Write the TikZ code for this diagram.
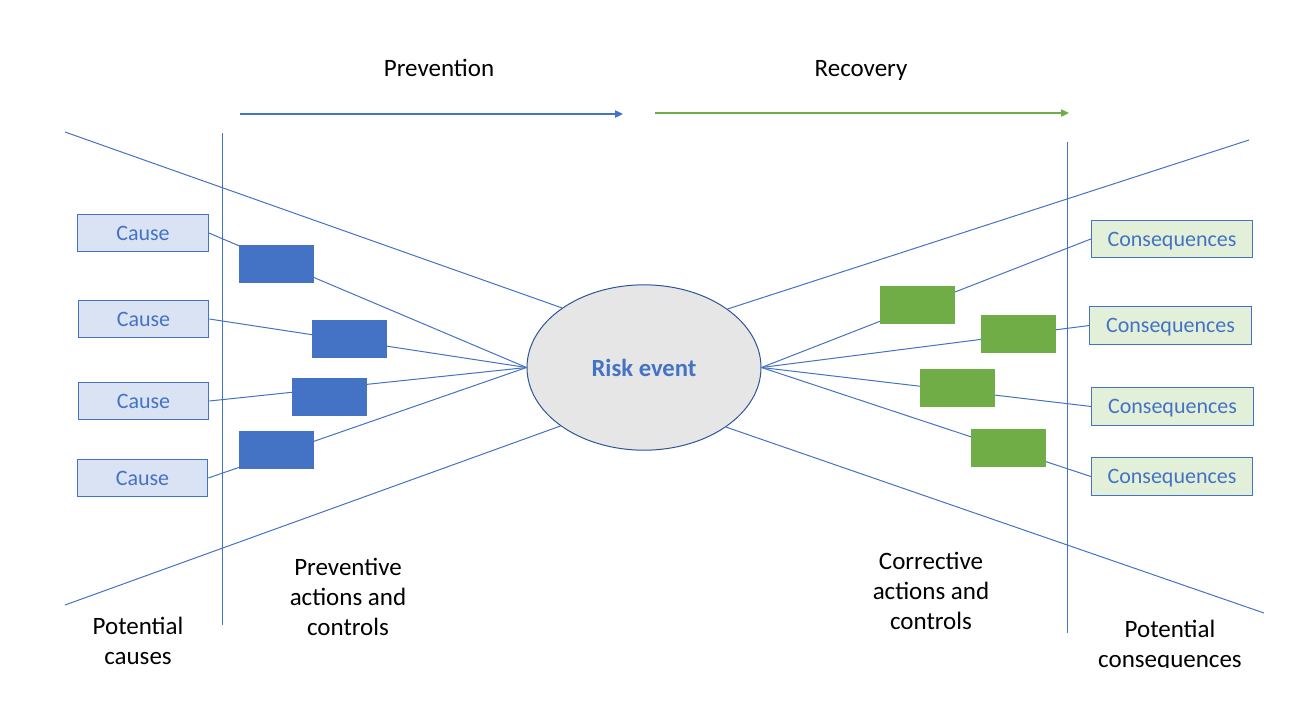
\documentclass[tikz,border=0pt]{standalone}
\usepackage{fontspec}
\setmainfont{Carlito}
\usetikzlibrary{shapes.geometric,arrows.meta}
\definecolor{msblue}{HTML}{4472C4}
\definecolor{msgreen}{HTML}{70AD47}
\definecolor{paleblue}{HTML}{DAE3F3}
\definecolor{palegreen}{HTML}{E2F0D9}
\definecolor{palegray}{HTML}{E7E6E6}
\definecolor{darkblue}{HTML}{2F5597}

\begin{document}
\begin{tikzpicture}
[x=0.75pt,y=-0.75pt,line width=0.75pt,
 link/.style={draw=msblue},
 cause/.style={draw=msblue,fill=paleblue,text=msblue,inner sep=0pt,
   text height=13pt,text depth=2.5pt,
   minimum width=98pt,minimum height=28pt,font=\fontsize{16.5}{20}\selectfont},
 conseq/.style={cause,fill=palegreen,minimum width=121pt},
 prevbox/.style={fill=msblue,inner sep=0pt,minimum width=56pt,minimum height=28.5pt},
 corrbox/.style={prevbox,fill=msgreen},
 risk/.style={ellipse,draw=darkblue,fill=palegray,text=msblue,inner sep=0pt,
   minimum width=175.5pt,minimum height=124pt,font=\fontsize{18.5}{22}\selectfont\bfseries},
 lbl/.style={align=center,inner sep=0pt,font=\fontsize{18.75}{22.5}\selectfont},
 flow/.style={line width=0.9pt,-{Triangle[length=6pt,width=5.5pt]}}]
\useasboundingbox (0,0) rectangle (1304,715);
% headings and direction arrows
\node[lbl] (prevt) at (439,68) {Prevention};
\node[lbl] (rect) at (861,70) {Recovery};
\coordinate (pv0) at (240,114);
\coordinate (pv1) at (623,114);
\coordinate (rc0) at (655,113);
\coordinate (rc1) at (1069,113);
\draw[flow,msblue] (pv0) -- (pv1);
\draw[flow,msgreen] (rc0) -- (rc1);
% separators
\draw[link] (222,133) -- (222,625);
\draw[link] (1067,142) -- (1067,633);
% causes, event, consequences
\node[risk] (risk) at (644,367.5) {Risk event};
\node[cause] (c1) at (143,233) {Cause};
\node[cause] (c2) at (143.5,319) {Cause};
\node[cause] (c3) at (143.5,401) {Cause};
\node[cause] (c4) at (142.5,478) {Cause};
\node[conseq] (q1) at (1172,239) {Consequences};
\node[conseq] (q2) at (1170.5,325.5) {Consequences};
\node[conseq] (q3) at (1172.5,406.5) {Consequences};
\node[conseq] (q4) at (1172,476.5) {Consequences};
\coordinate (tl) at (65,132);
\coordinate (bl) at (65,605);
\coordinate (tr) at (1249,140);
\coordinate (br) at (1264,613);
\foreach \from/\to in {tl/risk.144,bl/risk.215.5,risk.35.5/tr,risk.324.5/br}
\draw[link] (\from) -- (\to);
\foreach \from in {c1,c2,c3,c4}
\draw[link] (\from.east) -- (risk.west);
\foreach \to in {q1,q2,q3,q4}
\draw[link] (risk.east) -- (\to.west);
% barriers
\node[prevbox] (p1) at (276.5,264) {};
\node[prevbox] (p2) at (349.5,339) {};
\node[prevbox] (p3) at (329.5,397) {};
\node[prevbox] (p4) at (276.5,450) {};
\node[corrbox] (k1) at (917.5,305) {};
\node[corrbox] (k2) at (1018.5,334) {};
\node[corrbox] (k3) at (957.5,388) {};
\node[corrbox] (k4) at (1008.5,448) {};
% bottom captions
\node[lbl] (pcause) at (138,641) {Potential\\causes};
\node[lbl] (pact) at (348,597) {Preventive\\actions and\\controls};
\node[lbl] (cact) at (931,590.5) {Corrective\\actions and\\controls};
\begin{scope}
\clip (1060,600) rectangle (1290,667);
\node[lbl] (pcons) at (1170,645.5) {Potential\\consequences};
\end{scope}
\end{tikzpicture}
\end{document}
